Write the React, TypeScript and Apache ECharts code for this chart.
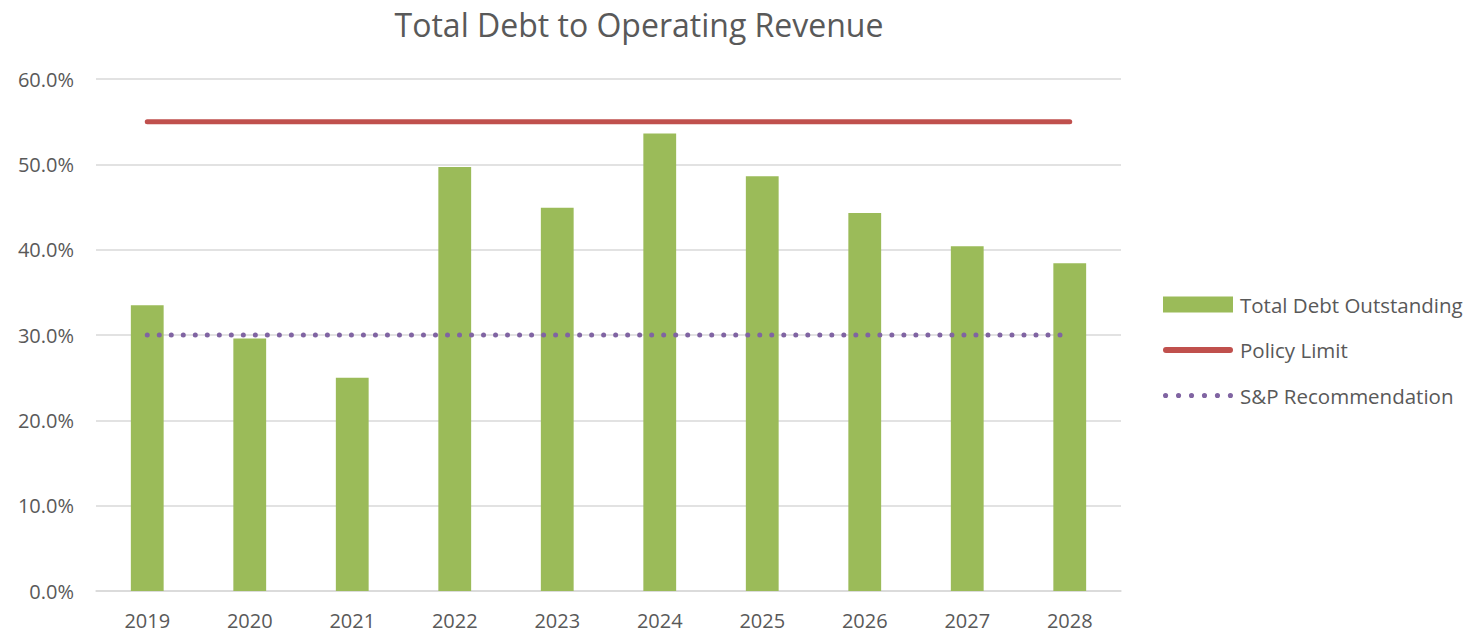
import React, { useEffect, useRef } from "react";
import * as echarts from "echarts";

const years = ["2019", "2020", "2021", "2022", "2023", "2024", "2025", "2026", "2027", "2028"];
const totalDebt = [0.335, 0.296, 0.25, 0.497, 0.449, 0.536, 0.486, 0.443, 0.404, 0.384];
const policyLimit = [0.55, 0.55, 0.55, 0.55, 0.55, 0.55, 0.55, 0.55, 0.55, 0.55];
const spRecommendation = [0.3, 0.3, 0.3, 0.3, 0.3, 0.3, 0.3, 0.3, 0.3, 0.3];

const FONT = "'Open Sans', 'Liberation Sans', sans-serif";
const TEXT = "#595959";

const policyIcon = "path://M3,0 L67,0 A3,3 0 0 1 67,6 L3,6 A3,3 0 0 1 3,0 Z";
const dotsIcon =
  "path://" +
  [0, 1, 2, 3, 4, 5]
    .map((i) => {
      const cx = 2.5 + i * 12.6;
      return `M${cx - 2.5},2.5 A2.5,2.5 0 1 0 ${cx + 2.5},2.5 A2.5,2.5 0 1 0 ${cx - 2.5},2.5 Z`;
    })
    .join(" ");

export default function App() {
  const ref = useRef<HTMLDivElement>(null);
  useEffect(() => {
    document.body.style.margin = "0";
    const chart = echarts.init(ref.current!, null, { renderer: "svg" });
    chart.setOption({
      animation: false,
      textStyle: { fontFamily: FONT },
      title: {
        text: "Total Debt to Operating Revenue",
        left: 634,
        top: 3,
        textAlign: "center",
        textStyle: { fontFamily: FONT, fontSize: 32, fontWeight: "normal", color: TEXT },
      },
      legend: {
        orient: "vertical",
        left: 1163,
        top: 294,
        padding: 0,
        itemWidth: 70,
        itemHeight: 16,
        itemGap: 24.5,
        textStyle: { fontFamily: FONT, fontSize: 20.5, color: TEXT, padding: [0, 0, 0, 2] },
        data: [
          { name: "Total Debt Outstanding", icon: "rect" },
          { name: "Policy Limit", icon: policyIcon },
          { name: "S&P Recommendation", icon: dotsIcon },
        ],
      },
      grid: { left: 96, right: 350, top: 79, bottom: 42 },
      xAxis: {
        type: "category",
        data: years,
        axisLine: { lineStyle: { color: "#d9d9d9", width: 1.5 } },
        axisTick: { show: false },
        axisLabel: { fontFamily: FONT, fontSize: 20, color: TEXT, margin: 19 },
      },
      yAxis: {
        type: "value",
        min: 0,
        max: 0.6,
        interval: 0.1,
        axisLine: { show: false },
        axisTick: { show: false },
        splitLine: { lineStyle: { color: "#d9d9d9", width: 1.5 } },
        axisLabel: {
          fontFamily: FONT,
          fontSize: 20,
          color: TEXT,
          margin: 22,
          formatter: (v: number) => (v * 100).toFixed(1) + "%",
        },
      },
      series: [
        {
          name: "Total Debt Outstanding",
          type: "bar",
          data: totalDebt,
          barWidth: "32%",
          itemStyle: { color: "#9BBB59" },
        },
        {
          name: "Policy Limit",
          type: "line",
          data: policyLimit,
          symbol: "none",
          lineStyle: { color: "#C0504D", width: 5, cap: "round" },
          itemStyle: { color: "#C0504D" },
        },
        {
          name: "S&P Recommendation",
          type: "line",
          data: spRecommendation,
          symbol: "none",
          lineStyle: { color: "#8064A2", width: 5, type: [0.01, 12], cap: "round" },
          itemStyle: { color: "#8064A2" },
        },
      ],
    });
    return () => chart.dispose();
  }, []);
  return <div ref={ref} style={{ width: 1471, height: 633 }} />;
}
